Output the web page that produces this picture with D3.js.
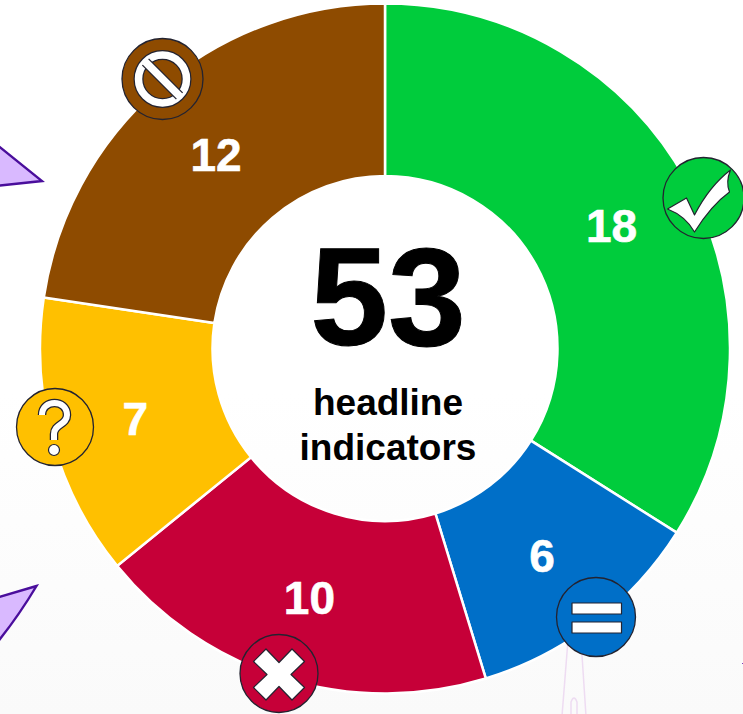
<!DOCTYPE html>
<html>
<head>
<meta charset="utf-8">
<script src="https://cdn.jsdelivr.net/npm/d3@7"></script>
<style>
  html, body { margin: 0; padding: 0; background: #fff; overflow: hidden; }
  text { font-family: "Liberation Sans", Arial, sans-serif; font-weight: bold; }
</style>
</head>
<body>
<div id="chart"></div>
<script>
const statuses = ['met', 'unchanged', 'worse', 'unknown', 'blocked']
const counts = [18, 6, 10, 7, 12]
const colours = ['#00cc3c', '#006fc8', '#c60038', '#ffc000', '#8e4b00']
const totalLabel = '53'
const captionLines = ['headline', 'indicators']

const fullWidth = 743,
  fullHeight = 714,
  cx = 385,
  cy = 348.5,
  outer = 345,
  inner = 172.5,
  ink = '#232330'

const svg = d3.select('#chart')
  .append('svg')
    .attr('width', fullWidth)
    .attr('height', fullHeight)
    .style('display', 'block')

// faint page background, darkens a touch to the bottom
const grad = svg.append('defs').append('linearGradient')
  .attr('id', 'bg')
  .attr('x1', 0).attr('x2', 0).attr('y1', 0).attr('y2', 1)
grad.append('stop').attr('offset', '55%').attr('stop-color', '#ffffff')
grad.append('stop').attr('offset', '100%').attr('stop-color', '#fafafa')

svg.append('rect')
  .attr('width', fullWidth)
  .attr('height', fullHeight)
  .attr('fill', 'url(#bg)')

// bits of the slide behind the donut
const behind = svg.append('g')

behind.selectAll('.wedge')
  .data(['M-4,144 L42,181 L-4,186 Z', 'M36.5,586 L-4,598 L-4,644 Q18,617 36.5,586 Z'])
  .enter()
  .append('path')
    .attr('class', 'wedge')
    .attr('d', d => d)
    .attr('fill', '#d9b9ff')
    .attr('stroke', '#4a0e9c')
    .attr('stroke-width', 2.4)
    .attr('stroke-linejoin', 'miter')

behind.append('path')
  .attr('d', 'M568,640 L562,716 M581,640 L586,716 M571,716 L571,702 Q574,694 577,702 L577,716')
  .attr('fill', 'none')
  .attr('stroke', '#eedcf2')
  .attr('stroke-width', 1.5)

behind.append('path')
  .attr('d', 'M742,663.5 L743,663.5')
  .attr('stroke', '#7a3fc0')
  .attr('stroke-width', 1)

const g = svg.append('g')
  .attr('transform', `translate(${cx}, ${cy})`)

const pie = d3.pie().sort(null)
const arc = d3.arc().innerRadius(inner).outerRadius(outer)
const arcs = pie(counts)

g.selectAll('.slice')
  .data(arcs)
  .enter()
  .append('path')
    .attr('class', 'slice')
    .attr('d', arc)
    .attr('fill', (d, i) => colours[i])
    .attr('stroke', '#fff')
    .attr('stroke-width', 2.5)

g.selectAll('.count')
  .data(arcs)
  .enter()
  .append('text')
    .attr('class', 'count')
    .attr('x', d => arc.centroid(d)[0])
    .attr('y', d => arc.centroid(d)[1] + 2)
    .attr('text-anchor', 'middle')
    .attr('dominant-baseline', 'central')
    .attr('font-size', 46)
    .attr('fill', '#fff')
    .attr('stroke', '#fff')
    .attr('stroke-width', 0.6)
    .text(d => d.data)

g.append('text')
  .attr('x', 3)
  .attr('y', -3.5)
  .attr('text-anchor', 'middle')
  .attr('font-size', 140)
  .attr('fill', '#000')
  .attr('stroke', '#000')
  .attr('stroke-width', 1)
  .text(totalLabel)

g.selectAll('.caption')
  .data(captionLines)
  .enter()
  .append('text')
    .attr('class', 'caption')
    .attr('x', 3)
    .attr('y', (d, i) => 66.5 + i * 45)
    .attr('text-anchor', 'middle')
    .attr('font-size', 37)
    .attr('fill', '#000')
    .text(d => d)

// status badges, drawn round their own centre
const badges = [
  { x: 703.5, y: 198, r: 40.5, draw: tick },
  { x: 596, y: 617, r: 39.5, draw: equals },
  { x: 279, y: 673.5, r: 39, draw: cross },
  { x: 55, y: 427, r: 38.5, draw: question },
  { x: 162.5, y: 79, r: 40.5, draw: noEntry }
]

badges.forEach((b, i) => {
  const badge = svg.append('g')
    .attr('transform', `translate(${b.x}, ${b.y})`)
  badge.append('circle')
    .attr('r', b.r)
    .attr('fill', colours[i])
    .attr('stroke', ink)
    .attr('stroke-width', 1.3)
  b.draw(badge)
})

function glyph (sel, d) {
  sel.append('path')
    .attr('d', d)
    .attr('fill', '#fff')
    .attr('stroke', ink)
    .attr('stroke-width', 1.2)
    .attr('stroke-linejoin', 'round')
}

function tick (sel) {
  glyph(sel, 'M-36,11 L-17,0 L-9,17 Q6,-12 27,-28 Q22,-16 26,-6 Q8,7 -9,34 Q-18,18 -36,11 Z')
}

function equals (sel) {
  glyph(sel, 'M-24,-14 H25.5 V-3 H-24 Z M-24,5 H25.5 V16 H-24 Z')
}

function cross (sel) {
  glyph(sel, 'M-25.5,-12 L-13,-24.5 L0,-11 L13,-24.5 L25.5,-12 L12,1 L25.5,14 L13,26.5 L0,13 L-13,26.5 L-25.5,14 L-12,1 Z')
}

function question (sel) {
  const hook = 'M-13,-12 C-13,-28 12,-28 12,-12 C12,-2 -1,-3 -1,7 V13'
  sel.append('path')
    .attr('d', hook)
    .attr('fill', 'none')
    .attr('stroke', ink)
    .attr('stroke-width', 8.5)
  sel.append('path')
    .attr('d', hook)
    .attr('fill', 'none')
    .attr('stroke', '#fff')
    .attr('stroke-width', 6)
  sel.append('circle')
    .attr('cx', -1)
    .attr('cy', 23)
    .attr('r', 5.5)
    .attr('fill', '#fff')
    .attr('stroke', ink)
    .attr('stroke-width', 1.2)
}

function noEntry (sel) {
  sel.append('circle')
    .attr('r', 24)
    .attr('fill', 'none')
    .attr('stroke', ink)
    .attr('stroke-width', 10)
  sel.append('circle')
    .attr('r', 24)
    .attr('fill', 'none')
    .attr('stroke', '#fff')
    .attr('stroke-width', 7.5)
  sel.append('line')
    .attr('x1', -17).attr('y1', -17).attr('x2', 17).attr('y2', 17)
    .attr('stroke', ink)
    .attr('stroke-width', 10)
  sel.append('line')
    .attr('x1', -18).attr('y1', -18).attr('x2', 18).attr('y2', 18)
    .attr('stroke', '#fff')
    .attr('stroke-width', 7.5)
}
</script>
</body>
</html>
